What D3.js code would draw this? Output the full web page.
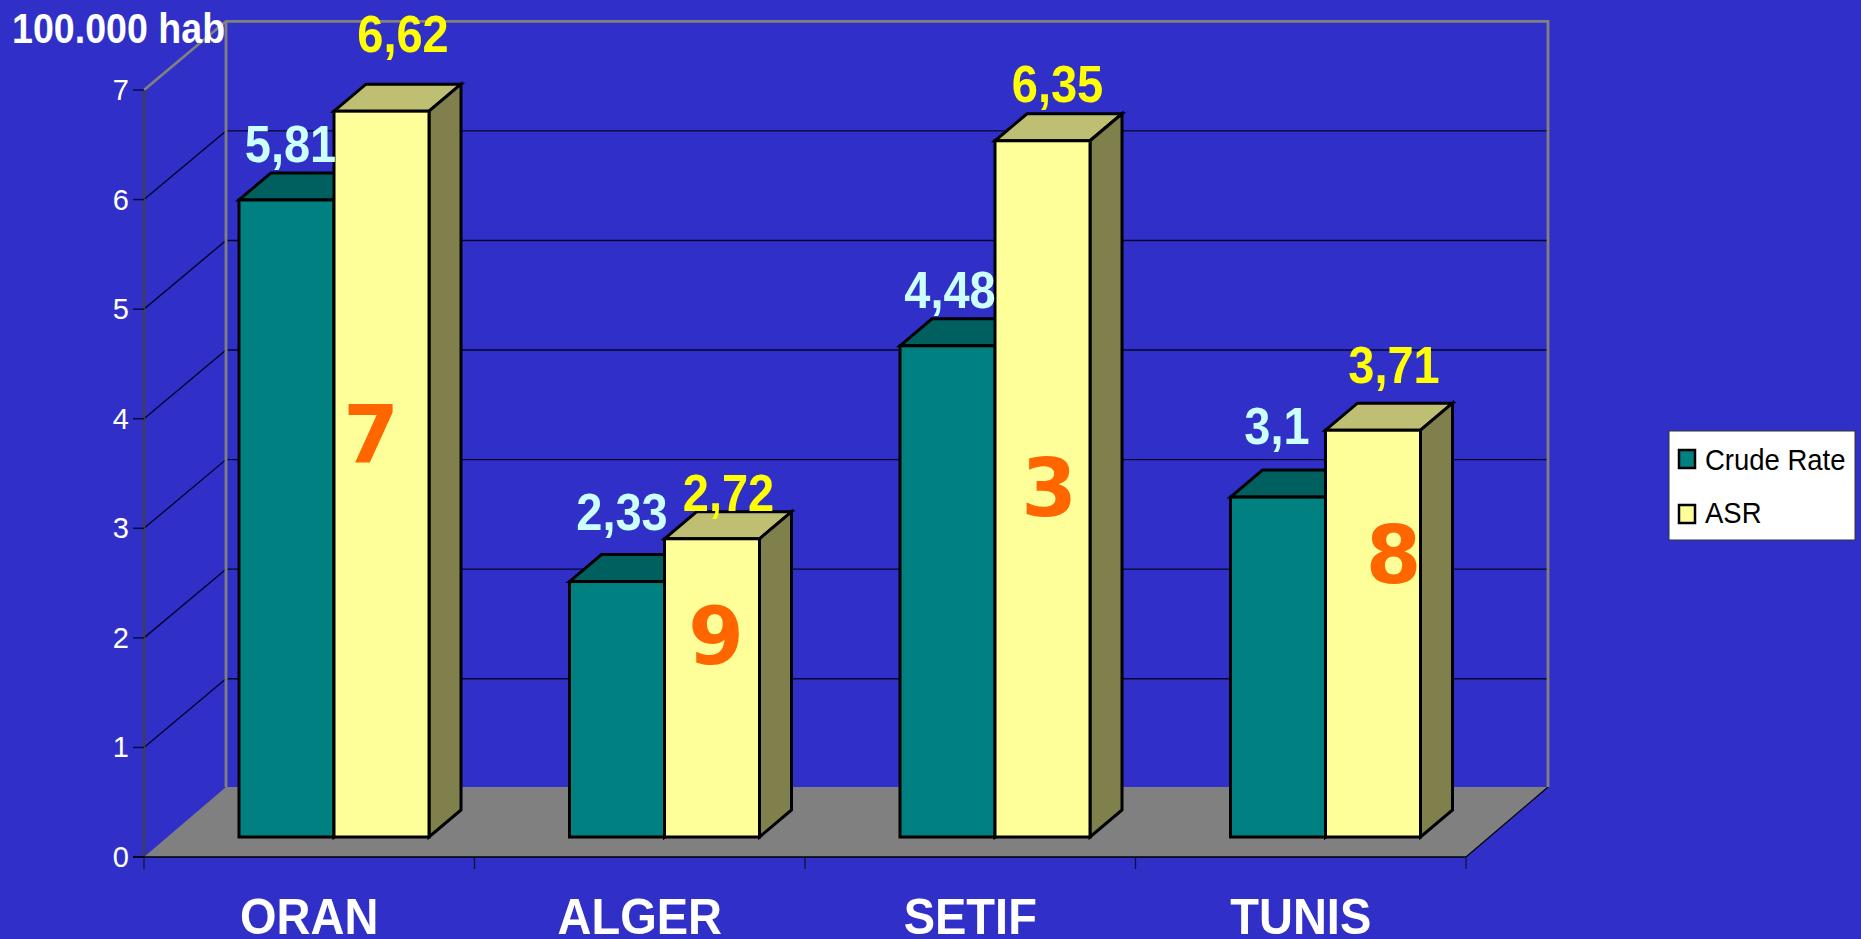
<!DOCTYPE html>
<html><head><meta charset="utf-8">
<script src="https://cdn.jsdelivr.net/npm/d3@7/dist/d3.min.js"></script>
<style>html,body{margin:0;padding:0;background:#3030c8;overflow:hidden}svg{display:block}text{font-family:"Liberation Sans",Arial,sans-serif}</style>
</head><body><svg id="c" width="1861" height="939"></svg>
<script>
const categories = ["ORAN","ALGER","SETIF","TUNIS"];
const seriesNames = ["Crude Rate","ASR"];
const crudeRate = [5.81,2.33,4.48,3.1];
const asr = [6.62,2.72,6.35,3.71];
const ranks = ["7","9","3","8"];
const yTicks = [0,1,2,3,4,5,6,7];

// layout constants
const W=1861,H=939;
const svg=d3.select("#c");
const FL=144,FR=1466,FB=857,FT=90,DX=82,DY=-70,GDY=-68.7;
const BASE=837, BDX=32, BDY=-27;
const x0=d3.scaleBand().domain(categories).range([FL,FR]);
const x1=d3.scaleBand().domain(seriesNames).range([95,285]);
const yAxisS=d3.scaleLinear().domain([0,7]).range([FB,FT]);
const yBar=d3.scaleLinear().domain([0,7]).range([BASE,BASE-767.5]);
const fill={"Crude Rate":"#008080","ASR":"#ffff99"};
const topFill={"Crude Rate":"#006060","ASR":"#bfbf73"};
const sideFill={"Crude Rate":"#004040","ASR":"#80804d"};
const stretch=(sel,x,y,sy)=>sel.attr("transform",`translate(${x},${y}) scale(1,${sy})`);

svg.append("rect").attr("width",W).attr("height",H).attr("fill","#3030c8");

// floor
svg.append("polygon").attr("fill","#808080")
 .attr("points",[[FL,FB],[FR,FB],[FR+DX,FB+DY],[FL+DX,FB+DY]].join(" "));
svg.append("line").attr("x1",FR).attr("y1",FB).attr("x2",FR+DX).attr("y2",FB+DY).attr("stroke","#000").attr("stroke-width",1.2);

// gridlines
const grid=svg.append("g");
yTicks.filter(t=>t>0&&t<7).forEach(t=>{
  const y=yAxisS(t);
  grid.append("path").attr("fill","none").attr("stroke","#05052e").attr("stroke-width",1.4)
   .attr("d",`M${FL},${y}L${FL+DX},${y+GDY}L${FR+DX},${y+GDY}`);
});
// walls
svg.append("path").attr("fill","none").attr("stroke","#808080").attr("stroke-width",2.8)
 .attr("d",`M${FL},${yAxisS(7)}L${FL+DX},${yAxisS(7)+GDY}L${FR+DX},${yAxisS(7)+GDY}L${FR+DX},${FB+DY}M${FL+DX},${yAxisS(7)+GDY}L${FL+DX},${FB+DY}`);

// y axis
svg.append("line").attr("x1",FL).attr("x2",FL).attr("y1",FT).attr("y2",FB).attr("stroke","#404040").attr("stroke-width",2.2);
svg.append("g").selectAll("line").data(yTicks).join("line")
 .attr("x1",FL-11).attr("x2",FL).attr("y1",d=>yAxisS(d)).attr("y2",d=>yAxisS(d)).attr("stroke","#0a0a40").attr("stroke-width",1.5);
svg.append("g").selectAll("text").data(yTicks).join("text")
 .text(d=>d).attr("fill","#fff").attr("font-size",29).attr("text-anchor","end")
 .each(function(d){stretch(d3.select(this),129,yAxisS(d)+10,1.03);});

// x axis
svg.append("line").attr("x1",FL-11).attr("x2",FR).attr("y1",FB).attr("y2",FB).attr("stroke","#000").attr("stroke-width",1.3);
const xTickPos=categories.map(c=>x0(c)).concat([FR]);
svg.append("g").selectAll("line").data(xTickPos).join("line")
 .attr("x1",d=>d).attr("x2",d=>d).attr("y1",FB).attr("y2",FB+12).attr("stroke","#101040").attr("stroke-width",1.3);
svg.append("g").selectAll("text").data(categories).join("text")
 .text(d=>d).attr("fill","#fff").attr("font-weight","bold").attr("font-size",47).attr("text-anchor","middle")
 .each(function(d){stretch(d3.select(this),x0(d)+x0.bandwidth()/2,934,1.08);});

// bars
function bar(g,x,w,y,name){
  const st={stroke:"#000","stroke-width":3,"stroke-linejoin":"miter"};
  const apply=s=>{Object.entries(st).forEach(([k,v])=>s.attr(k,v));return s;};
  apply(g.append("polygon").attr("fill",topFill[name])
    .attr("points",[[x,y],[x+BDX,y+BDY],[x+w+BDX,y+BDY],[x+w,y]].join(" ")));
  apply(g.append("polygon").attr("fill",sideFill[name])
    .attr("points",[[x+w,y],[x+w+BDX,y+BDY],[x+w+BDX,BASE+BDY],[x+w,BASE]].join(" ")));
  apply(g.append("rect").attr("x",x).attr("y",y).attr("width",w).attr("height",BASE-y).attr("fill",fill[name]));
}
const bars=svg.append("g");
categories.forEach((c,i)=>{
  const g=bars.append("g");
  bar(g,x0(c)+x1("Crude Rate"),x1.bandwidth(),yBar(crudeRate[i]),"Crude Rate");
  bar(g,x0(c)+x1("ASR"),x1.bandwidth(),yBar(asr[i]),"ASR");
});

// labels: hand nudges as in the original slide [dx from bar centre, baseline gap above bar top]
const crudeNudge=[[4,38],[5,52],[2.5,38],[-1,52.7]];
const asrNudge=[[21.5,59],[16.5,28],[15,38.5],[21,47]];
const vfmt=v=>String(v).replace(".",",");
function valueLabels(vals,name,color,nudge){
  svg.append("g").selectAll("text").data(vals).join("text")
   .text(vfmt).attr("fill",color).attr("font-weight","bold").attr("font-size",47).attr("text-anchor","middle")
   .each(function(d,i){const c=categories[i];
     stretch(d3.select(this),x0(c)+x1(name)+x1.bandwidth()/2+nudge[i][0],yBar(d)-nudge[i][1],1.12);});
}
valueLabels(crudeRate,"Crude Rate","#ccffff",crudeNudge);
valueLabels(asr,"ASR","#ffff00",asrNudge);

// rank numbers
const rankDx=[-10.5,4,6.5,20.5];
const rankBase=[462,664,516,583];
svg.append("g").selectAll("text").data(ranks).join("text")
 .text(d=>d).attr("fill","#ff6600").attr("font-weight","bold").attr("font-size",80).attr("text-anchor","middle")
 .style("font-family","'DejaVu Sans',sans-serif")
 .attr("x",(d,i)=>x0(categories[i])+x1("ASR")+x1.bandwidth()/2+rankDx[i])
 .attr("y",(d,i)=>rankBase[i]);

// axis title
stretch(svg.append("text").text("100.000 hab").attr("fill","#fff").attr("font-weight","bold").attr("font-size",37.6),12,43,1.15);

// legend
const lg=svg.append("g");
lg.append("rect").attr("x",1669).attr("y",431).attr("width",186).attr("height",109).attr("fill","#fff").attr("stroke","#333").attr("stroke-width",1);
seriesNames.forEach((n,i)=>{
  const y=[450,505][i];
  lg.append("rect").attr("x",1679).attr("y",y).attr("width",16).attr("height",18).attr("fill",fill[n]).attr("stroke","#000").attr("stroke-width",2.5);
  stretch(lg.append("text").text(n).attr("fill","#000").attr("font-size",27.5),1705,[470,523][i],1.1);
});
</script></body></html>
